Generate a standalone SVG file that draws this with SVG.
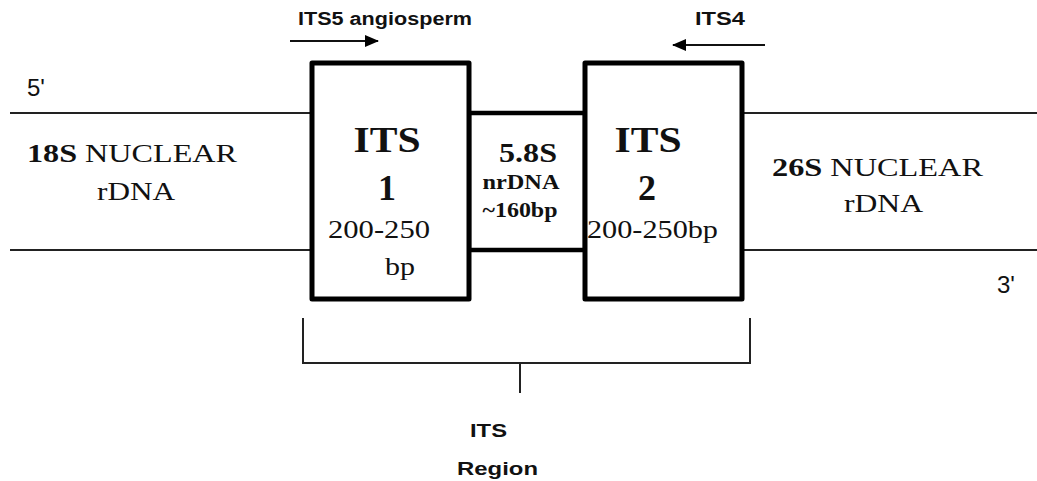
<svg xmlns="http://www.w3.org/2000/svg" width="1037" height="481" viewBox="0 0 1037 481">
<style>
.ln{stroke:#222;stroke-width:2;fill:none}
.box{stroke:#000;stroke-width:5;fill:#fff;stroke-linejoin:round}
.mid{stroke:#000;stroke-width:4.5;fill:#fff}
.serif{font-family:"Liberation Serif","Times New Roman",serif;fill:#111}
.sans{font-family:"Liberation Sans",Arial,sans-serif;fill:#111}
.b{font-weight:bold}
</style>
<defs>
<marker id="ah" markerWidth="14" markerHeight="12" refX="13" refY="6" orient="auto" markerUnits="userSpaceOnUse">
<path d="M0,0 L14,6 L0,12 z" fill="#000"/>
</marker>
</defs>
<g id="connectors">
<line class="ln" x1="10" y1="113" x2="312" y2="113"/>
<line class="ln" x1="10" y1="250" x2="312" y2="250"/>
<line class="ln" x1="742" y1="113" x2="1037" y2="113"/>
<line class="ln" x1="742" y1="250" x2="1037" y2="250"/>
<line x1="290" y1="41" x2="378" y2="41" stroke="#111" stroke-width="2" marker-end="url(#ah)"/>
<line x1="765" y1="45" x2="673" y2="45" stroke="#111" stroke-width="2" marker-end="url(#ah)"/>
<path class="ln" d="M303,318 V363 H750 V318"/>
<line class="ln" x1="520" y1="363" x2="520" y2="393"/>
</g>
<g id="mid-5_8S">
<rect class="mid" x="469" y="113" width="116" height="137"/>
<text class="serif b" x="528" y="162" font-size="28" text-anchor="middle" textLength="58" lengthAdjust="spacingAndGlyphs">5.8S</text>
<text class="serif b" x="521" y="189" font-size="20" text-anchor="middle" textLength="77" lengthAdjust="spacingAndGlyphs">nrDNA</text>
<text class="serif b" x="520" y="217" font-size="20" text-anchor="middle" textLength="75" lengthAdjust="spacingAndGlyphs">~160bp</text>
</g>
<g id="its1">
<rect class="box" x="312" y="63" width="157" height="236"/>
<text class="serif b" x="387" y="152" font-size="36" text-anchor="middle" textLength="67" lengthAdjust="spacingAndGlyphs">ITS</text>
<text class="serif b" x="387" y="200" font-size="36" text-anchor="middle">1</text>
<text class="serif" x="328" y="238" font-size="26" textLength="102" lengthAdjust="spacingAndGlyphs">200-250</text>
<text class="serif" x="385" y="275" font-size="26" textLength="30" lengthAdjust="spacingAndGlyphs">bp</text>
</g>
<g id="its2">
<rect class="box" x="585" y="63" width="157" height="236"/>
<text class="serif b" x="648" y="152" font-size="36" text-anchor="middle" textLength="67" lengthAdjust="spacingAndGlyphs">ITS</text>
<text class="serif b" x="647" y="200" font-size="36" text-anchor="middle">2</text>
<text class="serif" x="587" y="238" font-size="26" textLength="131" lengthAdjust="spacingAndGlyphs">200-250bp</text>
</g>
<g id="left-18S">
<text class="sans" x="27" y="96" font-size="24">5'</text>
<text class="serif" x="27" y="162" font-size="26" textLength="210" lengthAdjust="spacingAndGlyphs"><tspan class="b">18S</tspan>  NUCLEAR</text>
<text class="serif" x="97" y="200" font-size="26" textLength="78" lengthAdjust="spacingAndGlyphs">rDNA</text>
</g>
<g id="right-26S">
<text class="serif" x="772" y="176" font-size="26" textLength="211" lengthAdjust="spacingAndGlyphs"><tspan class="b">26S</tspan>  NUCLEAR</text>
<text class="serif" x="844" y="212" font-size="26" textLength="79" lengthAdjust="spacingAndGlyphs">rDNA</text>
<text class="sans" x="997" y="293" font-size="24">3'</text>
</g>
<g id="primers">
<text class="sans b" x="298" y="25" font-size="18" textLength="174" lengthAdjust="spacingAndGlyphs">ITS5 angiosperm</text>
<text class="sans b" x="695" y="25" font-size="18" textLength="50" lengthAdjust="spacingAndGlyphs">ITS4</text>
</g>
<g id="its-region">
<text class="sans b" x="470" y="437" font-size="19" textLength="37" lengthAdjust="spacingAndGlyphs">ITS</text>
<text class="sans b" x="457" y="475" font-size="19" textLength="81" lengthAdjust="spacingAndGlyphs">Region</text>
</g>
</svg>
